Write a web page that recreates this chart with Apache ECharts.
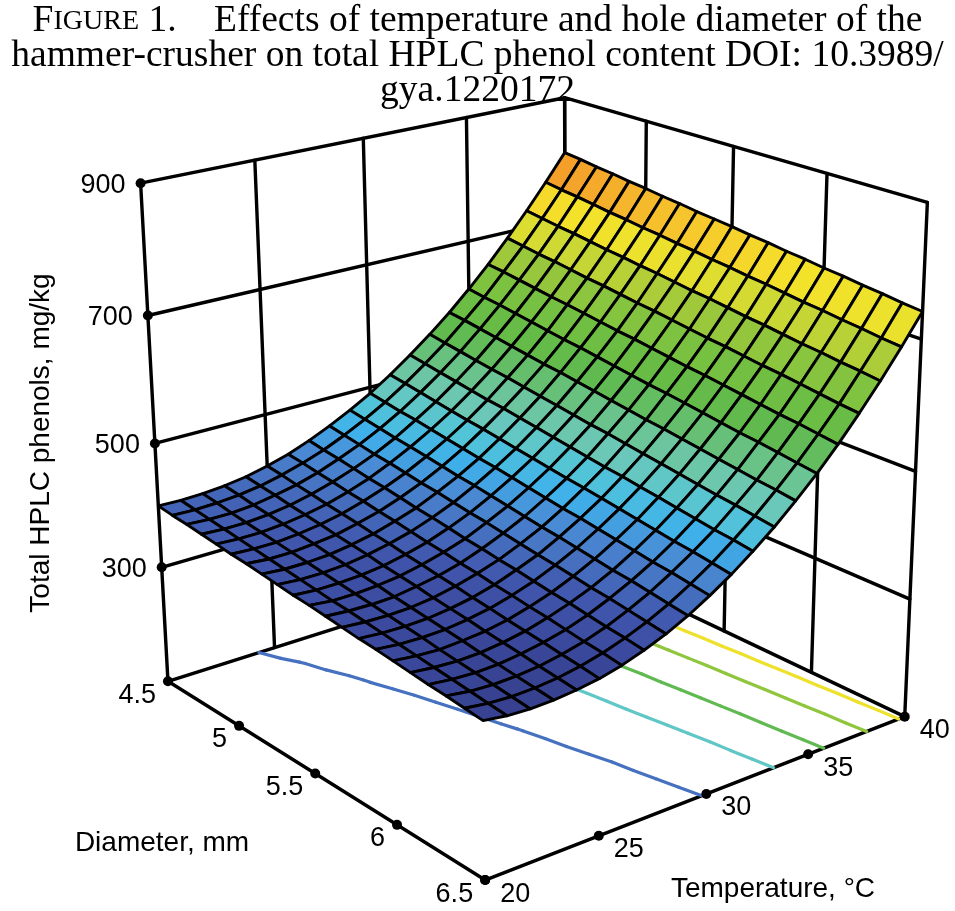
<!DOCTYPE html>
<html>
<head>
<meta charset="utf-8">
<script src="https://cdn.jsdelivr.net/npm/echarts@6/dist/echarts.min.js"></script>
<style>
  html, body { margin: 0; padding: 0; background: #fff; }
  #chart { width: 955px; height: 911px; }
</style>
</head>
<body>
<div id="chart"></div>
<script>
// grid the response surface was drawn on
const temperatures = [20, 21, 22, 23, 24, 25, 26, 27, 28, 29, 30, 31, 32, 33, 34, 35, 36, 37, 38, 39, 40];
const diameters = [4.5, 4.6, 4.7, 4.8, 4.9, 5.0, 5.1, 5.2, 5.3, 5.4, 5.5,
                   5.6, 5.7, 5.8, 5.9, 6.0, 6.1, 6.2, 6.3, 6.4, 6.5];

// total HPLC phenols (mg/kg), one row per temperature, columns follow diameters
const phenols = [
  [400, 397, 395, 392, 389, 386, 384, 381, 378, 375, 373, 370, 367, 364, 362, 359, 356, 353, 351, 348, 345],
  [399, 396, 393, 390, 387, 384, 381, 378, 375, 372, 369, 367, 364, 361, 358, 355, 352, 349, 346, 343, 340],
  [400, 397, 393, 390, 387, 384, 381, 378, 375, 372, 369, 366, 363, 360, 357, 353, 350, 347, 344, 341, 338],
  [403, 400, 396, 393, 390, 387, 384, 380, 377, 374, 371, 367, 364, 361, 358, 355, 351, 348, 345, 342, 339],
  [408, 405, 402, 398, 395, 392, 388, 385, 382, 378, 375, 372, 368, 365, 362, 358, 355, 352, 348, 345, 342],
  [416, 413, 409, 406, 402, 399, 396, 392, 389, 385, 382, 378, 375, 371, 368, 364, 361, 358, 354, 351, 347],
  [426, 423, 419, 416, 412, 409, 405, 402, 398, 394, 391, 387, 384, 380, 377, 373, 370, 366, 362, 359, 355],
  [439, 435, 432, 428, 424, 421, 417, 413, 410, 406, 402, 399, 395, 392, 388, 384, 381, 377, 373, 370, 366],
  [454, 450, 446, 442, 439, 435, 431, 428, 424, 420, 417, 413, 409, 405, 402, 398, 394, 391, 387, 383, 379],
  [471, 467, 463, 459, 456, 452, 448, 444, 441, 437, 433, 429, 425, 422, 418, 414, 410, 407, 403, 399, 395],
  [490, 486, 482, 479, 475, 471, 467, 463, 460, 456, 452, 448, 444, 441, 437, 433, 429, 425, 422, 418, 414],
  [512, 508, 504, 500, 496, 492, 489, 485, 481, 477, 473, 469, 466, 462, 458, 454, 450, 446, 443, 439, 435],
  [536, 532, 528, 524, 520, 516, 513, 509, 505, 501, 497, 493, 489, 486, 482, 478, 474, 470, 466, 463, 459],
  [562, 558, 554, 550, 546, 543, 539, 535, 531, 527, 523, 520, 516, 512, 508, 504, 500, 496, 493, 489, 485],
  [590, 587, 583, 579, 575, 571, 567, 564, 560, 556, 552, 548, 544, 541, 537, 533, 529, 525, 521, 518, 514],
  [621, 617, 614, 610, 606, 602, 598, 595, 591, 587, 583, 579, 576, 572, 568, 564, 560, 557, 553, 549, 545],
  [654, 651, 647, 643, 639, 636, 632, 628, 624, 621, 617, 613, 609, 606, 602, 598, 594, 590, 587, 583, 579],
  [690, 686, 682, 679, 675, 671, 668, 664, 660, 657, 653, 649, 645, 642, 638, 634, 631, 627, 623, 619, 616],
  [728, 724, 720, 717, 713, 709, 706, 702, 699, 695, 691, 688, 684, 680, 677, 673, 669, 666, 662, 659, 655],
  [768, 764, 761, 757, 753, 750, 746, 743, 739, 736, 732, 729, 725, 722, 718, 714, 711, 707, 704, 700, 697],
  [810, 807, 803, 800, 796, 793, 789, 786, 782, 779, 776, 772, 769, 765, 762, 758, 755, 751, 748, 744, 741]
];

// contour levels drawn on the floor
const contourLevels = [410, 493, 572, 655, 727];

// axes
const tempTicks = [20, 25, 30, 35, 40];
const diamTicks = [4.5, 5, 5.5, 6, 6.5];
const phenolTicks = [300, 500, 700, 900];
const tempRange = [20, 40];
const diamRange = [4.5, 6.5];
const phenolRange = [110, 900];

// where some box points land on the page, used to fit the 3-D view
const viewAnchors = [
  [20, 4.5, 900, 143, 183],
  [20, 4.5, 700, 149, 311],
  [20, 4.5, 500, 155, 437],
  [20, 4.5, 300, 161, 564],
  [20, 4.5, 110, 166, 683],
  [20, 5.5, 110, 327, 781],
  [20, 6.5, 110, 486, 879],
  [30, 6.5, 110, 695, 799],
  [40, 6.5, 110, 904, 717],
  [40, 6.5, 300, 911, 595],
  [40, 6.5, 500, 917, 465],
  [40, 6.5, 900, 930, 205],
  [40, 4.5, 900, 570, 100],
  [25, 4.5, 900, 249, 163],
  [30, 4.5, 900, 357, 142]
];

// colour scale, low to high
const palette = [
  '#36408e', '#3b4a9e', '#4056ad', '#4670c0', '#4a8ad4', '#3fb0ea', '#52c4d8',
  '#6cc8b8', '#6cc59c', '#66bf72', '#60ba4e', '#68bc45', '#74c042', '#86c43f',
  '#9cc83c', '#c4d535', '#e8e12e', '#f4e22a', '#f6c52d', '#f4a02a', '#f07824'
];

const toUnit = (T, D, z) => [
  (T - tempRange[0]) / (tempRange[1] - tempRange[0]),
  (D - diamRange[0]) / (diamRange[1] - diamRange[0]),
  (z - phenolRange[0]) / (phenolRange[1] - phenolRange[0])
];

// least squares fit of a 3x4 projective camera to the anchors
function fitView(anchors) {
  const N = 11;
  const M = Array.from({ length: N }, () => new Array(N).fill(0));
  const v = new Array(N).fill(0);
  const addRow = (r, b) => {
    for (let a = 0; a < N; a++) {
      v[a] += r[a] * b;
      for (let c = 0; c < N; c++) M[a][c] += r[a] * r[c];
    }
  };
  anchors.forEach(([T, D, z, x, y]) => {
    const [X, Y, Z] = toUnit(T, D, z);
    addRow([X, Y, Z, 1, 0, 0, 0, 0, -x * X, -x * Y, -x * Z], x);
    addRow([0, 0, 0, 0, X, Y, Z, 1, -y * X, -y * Y, -y * Z], y);
  });
  for (let k = 0; k < N; k++) {
    let p = k;
    for (let r = k + 1; r < N; r++) if (Math.abs(M[r][k]) > Math.abs(M[p][k])) p = r;
    [M[k], M[p]] = [M[p], M[k]];
    [v[k], v[p]] = [v[p], v[k]];
    for (let r = k + 1; r < N; r++) {
      const f = M[r][k] / M[k][k];
      for (let c = k; c < N; c++) M[r][c] -= f * M[k][c];
      v[r] -= f * v[k];
    }
  }
  const out = new Array(N).fill(0);
  for (let k = N - 1; k >= 0; k--) {
    let s = v[k];
    for (let c = k + 1; c < N; c++) s -= M[k][c] * out[c];
    out[k] = s / M[k][k];
  }
  return out;
}

const cam = fitView(viewAnchors);

function project(T, D, z) {
  const [X, Y, Z] = toUnit(T, D, z);
  const w = cam[8] * X + cam[9] * Y + cam[10] * Z + 1;
  return [
    (cam[0] * X + cam[1] * Y + cam[2] * Z + cam[3]) / w,
    (cam[4] * X + cam[5] * Y + cam[6] * Z + cam[7]) / w,
    w
  ];
}

// box lines: back walls with grid, plus the two front floor edges
const [t0, t1] = tempRange, [d0, d1] = diamRange, [z0, z1] = phenolRange;
const wallLevels = Array.from(new Set([z0, ...phenolTicks, z1]));
const frameSegs = [];
tempTicks.forEach(t => frameSegs.push([t, d0, z0, t, d0, z1]));
wallLevels.forEach(z => frameSegs.push([t0, d0, z, t1, d0, z]));
diamTicks.forEach(d => frameSegs.push([t1, d, z0, t1, d, z1]));
wallLevels.forEach(z => frameSegs.push([t1, d0, z, t1, d1, z]));
frameSegs.push([t0, d0, z0, t0, d1, z0]);
frameSegs.push([t0, d1, z0, t1, d1, z0]);

// surface cells, far ones first
const cells = [];
for (let i = 0; i < temperatures.length - 1; i++) {
  for (let j = 0; j < diameters.length - 1; j++) {
    const zs = [phenols[i][j], phenols[i + 1][j], phenols[i + 1][j + 1], phenols[i][j + 1]];
    const mean = zs.reduce((a, b) => a + b, 0) / 4;
    const c = project((temperatures[i] + temperatures[i + 1]) / 2,
                      (diameters[j] + diameters[j + 1]) / 2, mean);
    cells.push([i, j, mean, c[2]]);
  }
}
cells.sort((a, b) => b[3] - a[3]);

// contour segments on the floor (marching squares over the grid)
const contourSegs = [];
contourLevels.forEach(L => {
  for (let i = 0; i < temperatures.length - 1; i++) {
    for (let j = 0; j < diameters.length - 1; j++) {
      const corners = [[i, j], [i + 1, j], [i + 1, j + 1], [i, j + 1]];
      const pts = [];
      for (let e = 0; e < 4; e++) {
        const [a1, b1] = corners[e], [a2, b2] = corners[(e + 1) % 4];
        const v1 = phenols[a1][b1], v2 = phenols[a2][b2];
        if ((v1 >= L) !== (v2 >= L)) {
          const f = (L - v1) / (v2 - v1);
          pts.push([
            temperatures[a1] + f * (temperatures[a2] - temperatures[a1]),
            diameters[b1] + f * (diameters[b2] - diameters[b1])
          ]);
        }
      }
      for (let k = 0; k + 1 < pts.length; k += 2) {
        contourSegs.push({ a: pts[k], b: pts[k + 1], level: L });
      }
    }
  }
});

const tickItems = [];
phenolTicks.forEach(v => tickItems.push({ value: [t0, d0, v], kind: 'z', text: String(v) }));
diamTicks.forEach(v => tickItems.push({ value: [t0, v, z0], kind: 'd', text: String(v) }));
tempTicks.forEach(v => tickItems.push({ value: [v, d1, z0], kind: 't', text: String(v) }));
const labelPlace = {
  z: { dx: -15, dy: 2, align: 'right' },
  d: { dx: -12, dy: 14, align: 'right' },
  t: { dx: 15, dy: 14, align: 'left' }
};

const allValues = phenols.flat();
const labelFont = '"Liberation Sans", Arial, sans-serif';

const chart = echarts.init(document.getElementById('chart'));

const option = {
  animation: false,
  backgroundColor: '#fff',
  title: {
    text: '{cap|F}{sc|IGURE} 1.    Effects of temperature and hole diameter of the\n' +
          'hammer-crusher on total HPLC phenol content DOI: 10.3989/\n' +
          'gya.1220172',
    left: 'center',
    top: 4,
    padding: 0,
    textStyle: {
      fontFamily: '"Liberation Serif", "Times New Roman", serif',
      fontSize: 37.5,
      fontWeight: 'normal',
      color: '#000',
      lineHeight: 35,
      rich: {
        cap: { fontFamily: '"Liberation Serif", serif', fontSize: 37.5, lineHeight: 35, color: '#000' },
        sc: { fontFamily: '"Liberation Serif", serif', fontSize: 28, lineHeight: 35, color: '#000' }
      }
    }
  },
  grid: { left: 0, right: 0, top: 0, bottom: 0 },
  xAxis: { type: 'value', min: 0, max: 955, show: false },
  yAxis: { type: 'value', min: 0, max: 911, inverse: true, show: false },
  visualMap: {
    type: 'continuous',
    show: false,
    min: Math.min(...allValues),
    max: Math.max(...allValues),
    dimension: 2,
    seriesIndex: [1, 2],
    inRange: { color: palette }
  },
  graphic: [
    {
      type: 'text', x: 41, y: 443, rotation: Math.PI / 2,
      style: { text: 'Total HPLC phenols, mg/kg', font: '28px ' + labelFont,
               fill: '#000', align: 'center', verticalAlign: 'middle' }
    },
    {
      type: 'text', x: 162, y: 843,
      style: { text: 'Diameter, mm', font: '28px ' + labelFont,
               fill: '#000', align: 'center', verticalAlign: 'middle' }
    },
    {
      type: 'text', x: 773, y: 889,
      style: { text: 'Temperature, °C', font: '28px ' + labelFont,
               fill: '#000', align: 'center', verticalAlign: 'middle' }
    }
  ],
  series: [
    {
      type: 'custom',
      name: 'box',
      coordinateSystem: 'cartesian2d',
      z: 1,
      silent: true,
      data: frameSegs,
      renderItem: (params, api) => {
        const s = frameSegs[params.dataIndex];
        const a = project(s[0], s[1], s[2]), b = project(s[3], s[4], s[5]);
        const pa = api.coord([a[0], a[1]]), pb = api.coord([b[0], b[1]]);
        return {
          type: 'line',
          shape: { x1: pa[0], y1: pa[1], x2: pb[0], y2: pb[1] },
          style: { stroke: '#000', lineWidth: 3.4, lineCap: 'round' }
        };
      }
    },
    {
      type: 'custom',
      name: 'contours',
      coordinateSystem: 'cartesian2d',
      z: 2,
      silent: true,
      data: contourSegs.map((s, k) => [k, 0, s.level]),
      renderItem: (params, api) => {
        const s = contourSegs[params.dataIndex];
        const a = project(s.a[0], s.a[1], z0), b = project(s.b[0], s.b[1], z0);
        const pa = api.coord([a[0], a[1]]), pb = api.coord([b[0], b[1]]);
        return {
          type: 'line',
          shape: { x1: pa[0], y1: pa[1], x2: pb[0], y2: pb[1] },
          style: { stroke: api.visual('color'), lineWidth: 3.2, lineCap: 'round' }
        };
      }
    },
    {
      type: 'custom',
      name: 'surface',
      coordinateSystem: 'cartesian2d',
      z: 3,
      silent: true,
      data: cells,
      renderItem: (params, api) => {
        const i = api.value(0), j = api.value(1);
        const pts = [[i, j], [i + 1, j], [i + 1, j + 1], [i, j + 1]].map(([a, b]) => {
          const p = project(temperatures[a], diameters[b], phenols[a][b]);
          return api.coord([p[0], p[1]]);
        });
        return {
          type: 'polygon',
          shape: { points: pts },
          style: { fill: api.visual('color'), stroke: '#000', lineWidth: 2.9, lineJoin: 'round' }
        };
      }
    },
    {
      type: 'custom',
      name: 'ticks',
      coordinateSystem: 'cartesian2d',
      z: 4,
      silent: true,
      data: tickItems.map(t => t.value),
      renderItem: (params, api) => {
        const t = tickItems[params.dataIndex];
        const p = project(t.value[0], t.value[1], t.value[2]);
        const c = api.coord([p[0], p[1]]);
        const place = labelPlace[t.kind];
        return {
          type: 'group',
          children: [
            { type: 'circle', shape: { cx: c[0], cy: c[1], r: 5 }, style: { fill: '#000' } },
            {
              type: 'text', x: c[0] + place.dx, y: c[1] + place.dy,
              style: { text: t.text, font: '27px ' + labelFont, fill: '#000',
                       align: place.align, verticalAlign: 'middle' }
            }
          ]
        };
      }
    }
  ]
};

chart.setOption(option);
window.addEventListener('resize', () => chart.resize());
</script>
</body>
</html>
